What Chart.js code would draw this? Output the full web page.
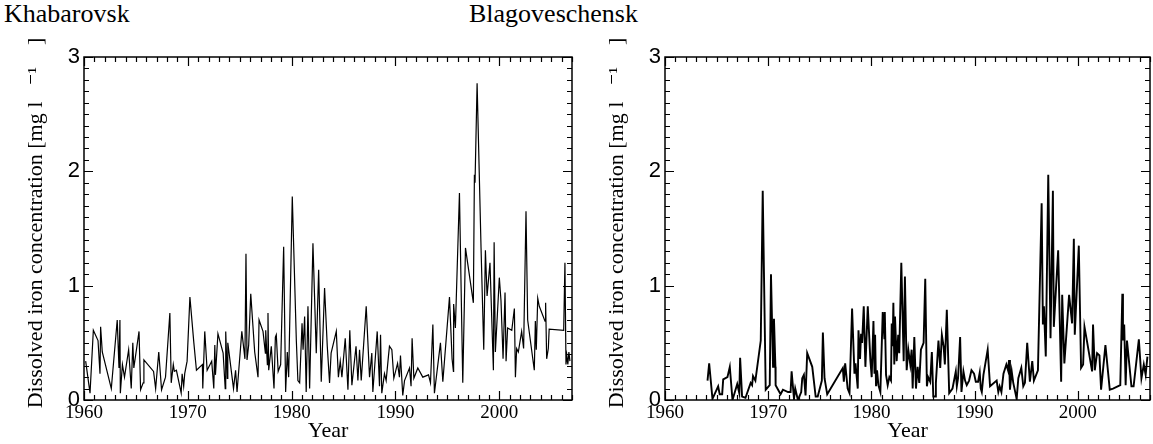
<!DOCTYPE html>
<html>
<head>
<meta charset="utf-8">
<script src="https://cdn.jsdelivr.net/npm/chart.js@4.4.1/dist/chart.umd.min.js"></script>
<style>
  body { margin: 0; background: #fff; width: 1153px; height: 444px; overflow: hidden; position: relative; }
  .station { position: absolute; top: 1px; font-family: "Liberation Serif", "DejaVu Serif", "Times New Roman", Times, serif; font-size: 26px; line-height: 1; color: #000; }
  canvas { position: absolute; top: 0; }
</style>
</head>
<body>
<div class="station" style="left:4px">Khabarovsk</div>
<div class="station" style="left:469px">Blagoveschensk</div>
<canvas id="khab" width="581" height="444" style="left:0"></canvas>
<canvas id="blag" width="572" height="444" style="left:581px"></canvas>
<script>
// Khabarovsk series (year, mg/l)
const khabYears = [
  1960.16, 1960.58, 1960.9, 1961.35, 1961.54, 1961.6, 1961.76, 1962.63, 1963.2, 1963.37,
  1963.46, 1963.5, 1963.7, 1963.9, 1964.3, 1964.55, 1964.7, 1964.8, 1965.3, 1965.45,
  1965.7, 1965.77, 1966.7, 1966.9, 1967.2, 1967.47, 1967.85, 1968.27, 1968.4, 1968.6,
  1968.7, 1968.9, 1969.36, 1969.45, 1969.6, 1969.7, 1969.93, 1970.2, 1970.58, 1970.83,
  1971.4, 1971.44, 1971.63, 1971.86, 1972.3, 1972.5, 1972.6, 1972.66, 1972.9, 1973.4,
  1973.6, 1973.65, 1973.8, 1973.85, 1974.4, 1974.6, 1974.74, 1975.2, 1975.5, 1975.6,
  1975.7, 1975.86, 1976.06, 1976.44, 1976.76, 1976.86, 1977.24, 1977.47, 1977.5, 1977.66,
  1977.72, 1977.79, 1978.04, 1978.3, 1978.43, 1978.52, 1978.7, 1978.94, 1979.23, 1979.42,
  1979.58, 1979.71, 1980.06, 1980.45, 1980.6, 1980.77, 1981.0, 1981.1, 1981.25, 1981.4,
  1981.57, 1981.73, 1982.05, 1982.37, 1982.6, 1982.85, 1983.17, 1983.43, 1983.65, 1983.8,
  1984.3, 1984.5, 1984.68, 1984.84, 1985.16, 1985.42, 1985.6, 1985.8, 1986.2, 1986.38,
  1986.54, 1986.7, 1987.18, 1987.5, 1987.72, 1987.82, 1988.24, 1988.46, 1988.56, 1988.68,
  1988.94, 1989.1, 1989.33, 1989.42, 1989.65, 1989.84, 1990.2, 1990.38, 1990.48, 1990.7,
  1990.87, 1991.35, 1991.5, 1991.6, 1991.77, 1992.15, 1992.63, 1993.18, 1993.37, 1993.6,
  1993.75, 1994.33, 1994.56, 1995.2, 1995.45, 1995.58, 1995.6, 1995.77, 1996.16, 1996.48,
  1996.74, 1997.5, 1997.6, 1997.66, 1997.86, 1998.24, 1998.5, 1998.66, 1998.82, 1999.1,
  1999.43, 1999.5, 1999.62, 2000.0, 2000.16, 2000.36, 2000.55, 2000.65, 2000.8, 2001.2,
  2001.45, 2001.55, 2001.67, 2001.83, 2002.15, 2002.34, 2002.57, 2002.73, 2003.37, 2003.47,
  2003.56, 2003.7, 2003.85, 2004.4, 2004.46, 2004.56, 2004.72, 2004.8, 2006.2, 2006.32,
  2006.42, 2006.5, 2006.6, 2006.7, 2006.8
];
const khabValues = [
  0.34, 0.06, 0.61, 0.52, 0.23, 0.64, 0.42, 0.10, 0.70, 0.28,
  0.70, 0.06, 0.31, 0.20, 0.44, 0.10, 0.50, 0.28, 0.60, 0.09,
  0.15, 0.35, 0.25, 0.10, 0.42, 0.09, 0.20, 0.76, 0.15, 0.31,
  0.25, 0.26, 0.06, 0.23, 0.12, 0.23, 0.34, 0.90, 0.50, 0.26,
  0.31, 0.10, 0.60, 0.26, 0.34, 0.10, 0.48, 0.22, 0.58, 0.41,
  0.10, 0.60, 0.19, 0.50, 0.10, 0.26, 0.07, 0.60, 0.36, 1.28,
  0.35, 0.48, 0.93, 0.42, 0.20, 0.70, 0.60, 0.41, 0.61, 0.31,
  0.76, 0.26, 0.47, 0.10, 0.55, 0.57, 0.25, 0.31, 1.34, 0.07,
  0.42, 0.20, 1.78, 0.52, 0.17, 0.15, 0.67, 0.44, 0.73, 0.07,
  0.82, 0.10, 1.37, 0.41, 1.14, 0.16, 0.98, 0.47, 0.15, 0.41,
  0.60, 0.20, 0.34, 0.20, 0.54, 0.09, 0.61, 0.13, 0.47, 0.17,
  0.44, 0.17, 0.82, 0.20, 0.41, 0.07, 0.60, 0.12, 0.57, 0.06,
  0.23, 0.17, 0.39, 0.47, 0.44, 0.19, 0.32, 0.20, 0.39, 0.04,
  0.17, 0.28, 0.12, 0.54, 0.19, 0.28, 0.20, 0.22, 0.15, 0.66,
  0.06, 0.50, 0.16, 0.90, 0.36, 0.25, 0.84, 0.63, 1.81, 0.15,
  1.33, 0.85, 1.97, 1.90, 2.77, 1.33, 0.44, 1.31, 0.91, 1.20,
  0.26, 1.38, 0.42, 1.07, 0.87, 0.36, 0.94, 0.34, 0.63, 0.61,
  0.80, 0.20, 0.45, 0.42, 0.60, 0.45, 1.65, 0.70, 0.26, 0.69,
  0.44, 0.89, 0.82, 0.69, 0.85, 0.36, 0.45, 0.62, 0.61, 1.20,
  0.31, 0.39, 0.31, 0.42, 0.34
];

// Blagoveschensk series (year, mg/l)
const blagYears = [
  1964.12, 1964.28, 1964.6, 1965.15, 1965.3, 1965.54, 1965.64, 1966.05, 1966.28, 1966.54,
  1967.0, 1967.2, 1967.28, 1967.47, 1967.8, 1968.3, 1968.44, 1968.53, 1968.76, 1969.28,
  1969.47, 1969.76, 1970.15, 1970.27, 1970.47, 1970.56, 1970.7, 1970.72, 1971.2, 1971.43,
  1971.92, 1972.17, 1972.27, 1972.5, 1972.62, 1972.88, 1973.2, 1973.3, 1973.46, 1973.62,
  1973.78, 1974.27, 1974.6, 1974.8, 1975.2, 1975.3, 1975.46, 1975.72, 1977.23, 1977.33,
  1977.46, 1977.7, 1977.88, 1978.13, 1978.36, 1978.46, 1978.68, 1978.75, 1978.9, 1979.0,
  1979.1, 1979.26, 1979.42, 1979.65, 1979.9, 1980.03, 1980.2, 1980.3, 1980.36, 1980.45,
  1980.55, 1980.68, 1980.87, 1981.1, 1981.26, 1981.3, 1981.42, 1981.58, 1981.74, 1981.9,
  1981.97, 1982.06, 1982.13, 1982.22, 1982.29, 1982.45, 1982.6, 1982.7, 1982.9, 1983.13,
  1983.25, 1983.42, 1983.58, 1983.77, 1983.9, 1984.0, 1984.16, 1984.32, 1984.48, 1984.64,
  1984.8, 1985.06, 1985.22, 1985.38, 1985.5, 1985.7, 1985.86, 1986.0, 1986.18, 1986.25,
  1986.5, 1986.67, 1986.83, 1987.0, 1987.12, 1987.31, 1987.54, 1987.86, 1988.18, 1988.28,
  1988.4, 1988.6, 1988.73, 1988.92, 1989.08, 1989.24, 1989.47, 1989.7, 1989.95, 1990.12,
  1990.34, 1990.5, 1990.6, 1990.7, 1990.86, 1991.27, 1991.5, 1992.14, 1992.3, 1992.43,
  1992.6, 1992.8, 1993.08, 1993.24, 1993.34, 1993.43, 1993.6, 1993.75, 1994.08, 1994.24,
  1994.53, 1994.72, 1994.88, 1995.1, 1995.36, 1995.59, 1995.75, 1996.14, 1996.5, 1996.62,
  1996.72, 1996.9, 1997.14, 1997.36, 1997.59, 1997.68, 1998.1, 1998.39, 1998.49, 1998.7,
  1999.16, 1999.45, 1999.62, 1999.71, 2000.1, 2000.32, 2000.52, 2000.65, 2000.9, 2001.39,
  2001.48, 2001.65, 2001.87, 2002.1, 2002.26, 2002.68, 2003.1, 2003.42, 2004.12, 2004.32,
  2004.38, 2004.5, 2004.64, 2004.77, 2005.2, 2005.41, 2005.92, 2006.17, 2006.4, 2006.58,
  2006.75
];
const blagValues = [
  0.17, 0.32, 0.01, 0.12, 0.05, 0.05, 0.18, 0.20, 0.29, 0.00,
  0.14, 0.06, 0.37, 0.03, 0.02, 0.15, 0.13, 0.21, 0.17, 0.52,
  1.83, 0.09, 0.13, 1.10, 0.29, 0.71, 0.29, 0.13, 0.05, 0.09,
  0.07, 0.07, 0.25, 0.01, 0.10, 0.00, 0.07, 0.19, 0.22, 0.04,
  0.41, 0.29, 0.03, 0.03, 0.17, 0.59, 0.19, 0.05, 0.28, 0.16,
  0.32, 0.10, 0.06, 0.80, 0.23, 0.32, 0.10, 0.61, 0.36, 0.58,
  0.50, 0.82, 0.29, 0.82, 0.35, 0.20, 0.69, 0.23, 0.57, 0.12,
  0.26, 0.13, 0.07, 0.77, 0.54, 0.77, 0.22, 0.13, 0.20, 0.17,
  0.67, 0.47, 0.85, 0.31, 0.73, 0.34, 0.57, 0.41, 1.20, 0.34,
  1.08, 0.26, 0.44, 0.31, 0.44, 0.10, 0.55, 0.10, 0.29, 0.15,
  0.44, 0.50, 1.06, 0.12, 0.20, 0.16, 0.42, 0.03, 0.03, 0.15,
  0.52, 0.28, 0.57, 0.47, 0.31, 0.79, 0.06, 0.10, 0.25, 0.12,
  0.19, 0.55, 0.07, 0.25, 0.17, 0.13, 0.17, 0.26, 0.23, 0.16,
  0.16, 0.24, 0.10, 0.07, 0.22, 0.44, 0.12, 0.17, 0.07, 0.12,
  0.07, 0.23, 0.31, 0.26, 0.35, 0.09, 0.25, 0.15, 0.01, 0.19,
  0.28, 0.12, 0.15, 0.50, 0.16, 0.34, 0.17, 0.26, 1.72, 0.66,
  0.82, 0.38, 1.97, 0.54, 1.83, 0.64, 1.31, 0.16, 0.92, 0.32,
  0.92, 0.67, 1.41, 0.57, 1.35, 0.28, 0.31, 0.64, 0.51, 0.25,
  0.66, 0.26, 0.41, 0.39, 0.09, 0.48, 0.09, 0.10, 0.13, 0.93,
  0.52, 0.66, 0.13, 0.52, 0.12, 0.12, 0.53, 0.19, 0.31, 0.22,
  0.38
];

const xTickLabels = [1960, 1970, 1980, 1990, 2000];
const yTickLabels = [0, 1, 2, 3];

const SERIF = '"Liberation Serif", "DejaVu Serif", "Times New Roman", Times, serif';
const SANS = '"Liberation Sans", Arial, sans-serif';

// inward ticks on all four sides, minor every year / every 0.1
const frameTicks = {
  id: 'frameTicks',
  afterDraw(chart) {
    const { ctx, chartArea: a, scales: { x, y } } = chart;
    ctx.save();
    ctx.strokeStyle = '#000';
    ctx.lineWidth = 1.5;
    ctx.strokeRect(a.left, a.top, a.right - a.left, a.bottom - a.top);
    ctx.lineWidth = 1.2;
    ctx.beginPath();
    for (let yr = 1960; yr <= 2007; yr++) {
      const px = Math.round(x.getPixelForValue(yr)) + 0.5;
      const len = yr % 10 === 0 ? 9 : 5;
      ctx.moveTo(px, a.bottom); ctx.lineTo(px, a.bottom - len);
      ctx.moveTo(px, a.top); ctx.lineTo(px, a.top + len);
    }
    for (let i = 0; i <= 30; i++) {
      const py = Math.round(y.getPixelForValue(i / 10)) + 0.5;
      const len = i % 10 === 0 ? 9 : 5;
      ctx.moveTo(a.left, py); ctx.lineTo(a.left + len, py);
      ctx.moveTo(a.right, py); ctx.lineTo(a.right - len, py);
    }
    ctx.stroke();
    ctx.restore();
  }
};

function makeChart(id, years, values, lineWidth, padRight) {
  const points = years.map((yr, i) => ({ x: yr, y: values[i] }));
  return new Chart(document.getElementById(id), {
    type: 'line',
    data: {
      datasets: [{
        data: points,
        borderColor: '#000',
        borderWidth: lineWidth,
        pointRadius: 0,
        tension: 0,
        fill: false
      }]
    },
    options: {
      responsive: false,
      animation: false,
      layout: { padding: { top: 57, right: padRight, bottom: 0, left: 0 } },
      plugins: { legend: { display: false }, tooltip: { enabled: false } },
      scales: {
        x: {
          type: 'linear',
          min: 1960,
          max: 2007,
          afterBuildTicks: s => { s.ticks = xTickLabels.map(v => ({ value: v })); },
          afterFit: s => { s.height = 44; },
          grid: { display: false, drawTicks: false },
          border: { display: false },
          ticks: {
            color: '#000', padding: 2, maxRotation: 0,
            font: { family: SERIF, size: 19 },
            callback: v => String(v)
          },
          title: { display: true, text: 'Year', color: '#000', padding: 0, font: { family: SERIF, size: 22 } }
        },
        y: {
          min: 0,
          max: 3,
          afterBuildTicks: s => { s.ticks = yTickLabels.map(v => ({ value: v })); },
          afterFit: s => { s.width = 84; },
          grid: { display: false, drawTicks: false },
          border: { display: false },
          ticks: { color: '#000', padding: 4, font: { family: SANS, size: 22 } },
          title: {
            display: true,
            text: '  Dissolved iron concentration [mg l   ⁻¹    ]',
            color: '#000',
            padding: { top: 23, bottom: 0 },
            font: { family: SERIF, size: 22 }
          }
        }
      }
    },
    plugins: [frameTicks]
  });
}

makeChart('khab', khabYears, khabValues, 1.2, 9);
makeChart('blag', blagYears, blagValues, 1.9, 3);
</script>
</body>
</html>
